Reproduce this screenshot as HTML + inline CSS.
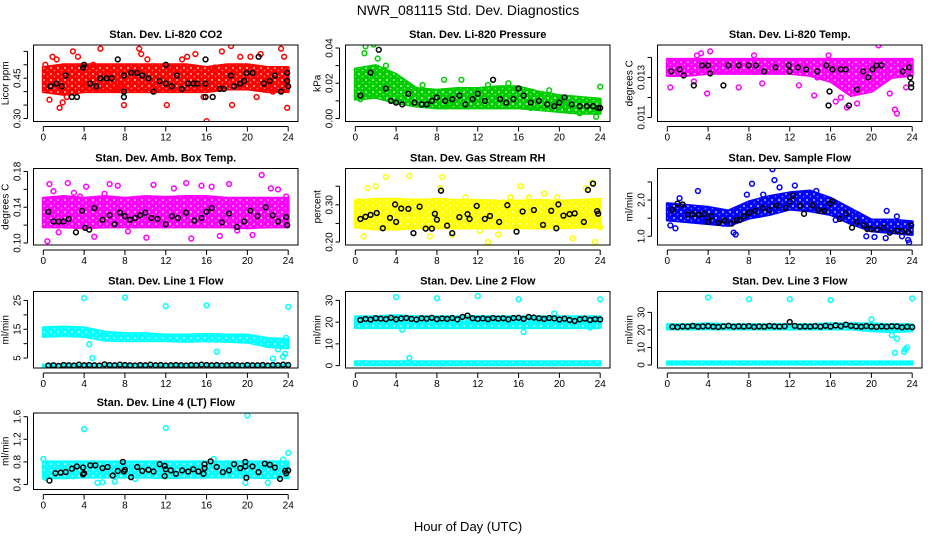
<!DOCTYPE html>
<html><head><meta charset="utf-8"><style>
body{margin:0;background:#fff;}
svg{display:block;font-family:"Liberation Sans",sans-serif;}
</style></head><body>
<svg id="chart" width="936" height="540" viewBox="0 0 936 540">
<defs>
<pattern id="speckle" width="7" height="6" patternUnits="userSpaceOnUse">
<circle cx="2" cy="2" r="1" fill="#fff" opacity="0.7"/>
<circle cx="5.5" cy="4.5" r="0.8" fill="#fff" opacity="0.5"/>
</pattern>
</defs>
<rect width="936" height="540" fill="#fff"/>
<text x="468" y="15" text-anchor="middle" font-size="14">NWR_081115  Std. Dev. Diagnostics</text>
<text x="468" y="531" text-anchor="middle" font-size="13">Hour of Day (UTC)</text>
</svg>
<script>
// ---- data ----
const bandHours = [0,2,4,6,8,10,12,14,16,18,20,22,24];
const xTicks = [0,4,8,12,16,20,24];

const co2BandLo = [0.40,0.39,0.40,0.40,0.40,0.40,0.40,0.40,0.40,0.41,0.41,0.40,0.40];
const co2BandHi = [0.49,0.50,0.50,0.50,0.50,0.50,0.50,0.50,0.49,0.50,0.50,0.49,0.49];
const co2OutH = [0.2,0.6,0.9,1.3,1.6,1.9,2.3,2.9,3.4,4.1,4.9,5.6,5.8,6.4,7.0,7.6,7.9,8.4,9.4,9.6,10.2,11.0,12.1,12.6,13.6,14.1,14.9,15.7,16.0,16.8,17.5,18.4,18.5,19.3,20.3,20.9,21.3,22.0,22.5,23.3,23.6,23.9];
const co2OutV = [0.50,0.37,0.53,0.52,0.34,0.36,0.38,0.55,0.53,0.43,0.50,0.56,0.41,0.47,0.41,0.43,0.35,0.44,0.56,0.54,0.52,0.41,0.35,0.49,0.52,0.53,0.54,0.38,0.29,0.49,0.55,0.57,0.35,0.53,0.53,0.38,0.54,0.43,0.40,0.56,0.53,0.34];
const co2BlkH = [0.7,1.3,1.8,2.2,2.8,3.3,3.9,4.0,4.6,5.2,5.6,6.2,6.7,7.3,7.9,7.9,7.9,8.6,9.2,9.7,10.3,10.8,11.4,12.0,12.0,12.6,13.1,13.6,14.2,14.7,15.1,15.9,15.9,15.9,16.6,17.3,17.7,18.4,18.7,19.3,19.7,19.9,20.5,21.1,21.6,22.2,22.7,23.3,23.9,23.9,24.0];
const co2BlkV = [0.42,0.43,0.42,0.46,0.38,0.38,0.49,0.50,0.43,0.42,0.45,0.45,0.45,0.52,0.40,0.38,0.46,0.47,0.47,0.46,0.45,0.40,0.44,0.50,0.43,0.42,0.46,0.41,0.43,0.43,0.43,0.52,0.43,0.38,0.38,0.41,0.41,0.46,0.42,0.43,0.44,0.47,0.47,0.53,0.43,0.44,0.46,0.40,0.47,0.44,0.42];

const presBandLo = [0.011,0.012,0.009,0.007,0.006,0.006,0.006,0.006,0.006,0.005,0.004,0.003,0.003];
const presBandHi = [0.028,0.030,0.025,0.017,0.016,0.017,0.017,0.018,0.018,0.015,0.013,0.012,0.011];
const presOutH = [0.5,0.9,1.0,1.8,2.2,3.0,3.7,6.6,8.7,9.1,10.4,11.0,13.0,15.0,17.2,19.0,22.0,23.6,24.0,0.2];
const presOutV = [0.011,0.037,0.041,0.042,0.034,0.030,0.022,0.019,0.022,0.008,0.022,0.007,0.019,0.020,0.006,0.016,0.003,0.001,0.018,0.022];
const presBlkH = [0.5,1.5,2.3,3.0,3.5,4.0,4.6,5.2,5.8,6.5,7.0,7.5,8.0,8.8,9.5,10.2,10.8,11.5,12.0,12.7,13.5,14.2,14.8,15.5,16.0,16.5,17.2,18.0,18.8,19.5,20.0,20.5,21.2,22.0,22.7,23.3,23.8,24.0];
const presBlkV = [0.013,0.026,0.039,0.017,0.010,0.009,0.008,0.014,0.009,0.008,0.008,0.010,0.012,0.010,0.011,0.013,0.008,0.011,0.014,0.010,0.022,0.011,0.009,0.011,0.017,0.013,0.009,0.010,0.008,0.007,0.009,0.012,0.008,0.007,0.007,0.007,0.006,0.006];

const tempBandLo = [0.0131,0.0131,0.0132,0.0132,0.0132,0.0132,0.0132,0.0131,0.0128,0.0121,0.0123,0.0130,0.0131];
const tempBandHi = [0.0139,0.0139,0.0139,0.0139,0.0139,0.0139,0.0139,0.0139,0.0139,0.0139,0.0139,0.0139,0.0139];
const tempOutH = [0.3,2.6,2.9,3.3,3.9,4.2,7.0,8.5,9.3,12.9,14.4,14.7,15.8,16.5,17.0,17.6,17.8,18.6,20.5,20.7,20.9,21.8,22.3,22.5,23.4];
const tempOutV = [0.0125,0.0128,0.0141,0.0142,0.0122,0.0143,0.0125,0.0141,0.0127,0.0126,0.0121,0.0130,0.0141,0.0118,0.0120,0.0115,0.0105,0.0117,0.0149,0.0146,0.0137,0.0122,0.0114,0.0112,0.0125];
const tempBlkH = [0.4,1.2,1.6,2.6,3.4,4.0,4.2,5.5,6.0,7.0,8.0,8.7,9.5,10.6,11.9,12.0,12.8,13.6,14.7,15.6,15.9,15.8,16.2,17.0,17.5,17.8,18.6,19.2,19.7,20.1,20.5,21.0,23.1,23.8,23.9,23.9,23.7];
const tempBlkV = [0.0133,0.0134,0.0131,0.0126,0.0136,0.0136,0.0132,0.0126,0.0136,0.0136,0.0136,0.0136,0.0133,0.0135,0.0136,0.0133,0.0135,0.0134,0.0133,0.0136,0.0123,0.0116,0.0134,0.0134,0.0134,0.0116,0.0124,0.0133,0.0130,0.0134,0.0136,0.0136,0.0133,0.0130,0.0127,0.0125,0.0135];

const ambBandLo = [0.118,0.118,0.117,0.118,0.118,0.118,0.118,0.118,0.118,0.118,0.117,0.118,0.118];
const ambBandHi = [0.150,0.152,0.150,0.152,0.150,0.152,0.151,0.152,0.152,0.150,0.150,0.150,0.150];
const ambOutH = [0.4,0.6,1.0,1.5,2.4,3.0,3.6,4.2,5.0,6.0,6.5,7.3,8.3,9.5,10.1,10.8,12.8,14.0,14.5,15.5,16.5,17.3,18.2,19.0,20.5,21.4,22.3,23.0,23.8,0.2];
const ambOutV = [0.102,0.166,0.158,0.112,0.167,0.156,0.152,0.163,0.107,0.155,0.166,0.164,0.113,0.186,0.106,0.165,0.161,0.167,0.105,0.164,0.163,0.108,0.166,0.114,0.109,0.176,0.161,0.160,0.152,0.142];
const ambBlkH = [0.5,1.0,1.5,2.0,2.5,3.2,3.8,4.1,4.5,5.0,5.8,6.5,7.0,7.5,8.0,8.5,9.0,9.5,10.0,10.6,11.2,12.0,12.6,13.2,14.0,14.8,15.5,16.0,16.5,17.5,18.2,19.0,19.7,20.3,21.0,21.8,22.5,23.0,23.8,23.9];
const ambBlkV = [0.135,0.124,0.124,0.124,0.127,0.112,0.136,0.117,0.115,0.139,0.126,0.131,0.121,0.134,0.130,0.126,0.128,0.131,0.134,0.128,0.127,0.121,0.130,0.128,0.134,0.125,0.128,0.135,0.139,0.123,0.133,0.118,0.124,0.136,0.130,0.140,0.131,0.124,0.129,0.120];

const rhBandLo = [0.240,0.235,0.235,0.238,0.238,0.238,0.238,0.238,0.238,0.238,0.238,0.240,0.240];
const rhBandHi = [0.310,0.315,0.315,0.312,0.315,0.312,0.312,0.310,0.310,0.312,0.310,0.312,0.315];
const rhOutH = [0.3,0.8,1.2,2.0,3.0,3.5,5.3,6.0,7.3,8.3,8.5,9.5,10.8,12.2,13.0,14.0,15.2,16.2,17.0,18.5,19.8,21.3,22.6,23.2,23.5,24.0];
const rhOutV = [0.31,0.215,0.345,0.350,0.375,0.24,0.378,0.31,0.215,0.345,0.375,0.22,0.32,0.23,0.20,0.22,0.32,0.35,0.32,0.33,0.32,0.21,0.345,0.36,0.20,0.24];
const rhBlkH = [0.5,1.0,1.5,2.1,2.7,3.4,3.9,4.0,4.5,5.2,5.7,6.3,6.9,7.5,7.8,8.0,8.4,9.0,9.5,10.2,11.0,11.2,11.9,12.7,13.2,14.1,14.9,15.8,16.4,17.5,18.4,19.2,19.7,19.9,20.4,21.0,21.5,22.4,22.8,23.3,23.7,23.8];
const rhBlkV = [0.262,0.268,0.273,0.278,0.237,0.265,0.301,0.254,0.29,0.289,0.224,0.295,0.236,0.236,0.276,0.260,0.338,0.244,0.224,0.267,0.275,0.262,0.297,0.262,0.270,0.254,0.299,0.228,0.282,0.286,0.246,0.284,0.237,0.301,0.271,0.275,0.277,0.254,0.340,0.357,0.283,0.276];

const sfBandLo = [1.45,1.40,1.35,1.30,1.50,1.60,1.75,1.70,1.60,1.35,1.15,1.10,1.05];
const sfBandHi = [1.90,1.85,1.80,1.70,1.95,2.10,2.20,2.25,2.05,1.75,1.45,1.45,1.40];
const sfOutH = [0.3,0.8,1.2,3.0,3.5,5.5,6.5,6.7,7.8,8.3,9.4,10.3,10.5,11.0,12.5,14.6,16.5,18.7,19.5,20.3,21.5,21.4,22.5,23.6,23.7,23.0];
const sfOutV = [1.30,1.22,2.05,2.25,1.45,1.35,1.10,1.05,2.15,2.45,2.15,2.85,2.55,2.35,2.40,2.25,1.45,1.60,1.00,0.98,1.70,0.95,1.55,0.90,0.83,1.00];
const sfBlkH = [0.5,1.0,1.5,2.0,2.5,3.1,3.6,4.0,4.3,5.0,5.6,6.3,6.8,7.1,7.5,8.0,8.6,9.4,10.0,10.7,11.6,12.0,12.3,13.0,13.4,14.2,14.8,15.4,15.9,16.2,16.9,17.5,18.1,18.6,19.3,19.6,20.0,20.6,21.2,21.8,22.5,23.0,23.6,23.9];
const sfBlkV = [1.73,1.90,1.88,1.60,1.61,1.59,1.62,1.40,1.55,1.37,1.43,1.35,1.45,1.45,1.56,1.65,1.70,1.78,1.72,1.85,1.78,1.96,2.12,1.84,1.62,1.86,1.72,1.70,1.90,1.97,1.48,1.63,1.24,1.40,1.30,1.20,1.20,1.19,1.24,1.10,1.15,1.14,1.12,1.30];

const l1BandLo = [12.5,12.8,12.5,11.2,11.0,11.0,11.0,10.8,11.0,10.8,10.5,9.0,8.5];
const l1BandHi = [15.5,15.8,15.5,14.0,13.5,13.5,13.0,13.0,13.2,13.0,13.0,11.8,11.5];
const l1Band2Lo = [1.6,1.6,1.6,1.6,1.6,1.6,1.6,1.6,1.6,1.6,1.6,1.6,1.6];
const l1Band2Hi = [2.6,2.6,2.6,2.6,2.6,2.6,2.6,2.6,2.6,2.6,2.6,2.6,2.6];
const l1OutH = [4.0,8.0,12.0,16.0,24.0,4.5,4.8,17.0,22.5,23.0,23.5,23.7,23.8];
const l1OutV = [25.8,26.0,23.0,23.3,22.8,9.8,5.0,7.2,4.8,8.0,5.5,6.5,12.0];
const l1BlkV = [2.4,2.5,2.3,2.6,2.5,2.4,2.7,2.5,2.6,2.5,2.4,2.8,2.6,2.5,2.7,2.6,2.5,2.4,2.6,2.5,2.7,2.5,2.6,2.4,2.5,2.6,2.5,2.4,2.6,2.5,2.7,2.6,2.5,2.6,2.4,2.5,2.6,2.5,2.4,2.6,2.5,2.5,2.6,2.4,2.6,2.5,2.7,2.6];

const l2BandLo = [20.0,20.0,20.0,20.0,20.0,20.0,20.0,20.0,20.0,20.0,20.0,20.0,20.0];
const l2BandHi = [22.5,22.5,23.0,22.5,22.5,22.5,22.5,22.5,22.5,22.5,22.5,22.5,22.5];
const l2Band2Lo = [17.5,17.5,17.5,17.5,17.5,17.5,17.5,17.5,17.5,17.5,17.5,17.5,17.5];
const l2Band2Hi = [19.6,19.6,19.6,19.6,19.6,19.6,19.6,19.6,19.6,19.6,19.6,19.6,19.6];
const l2Band3Lo = [0.4,0.4,0.4,0.4,0.4,0.4,0.4,0.4,0.4,0.4,0.4,0.4,0.4];
const l2Band3Hi = [1.8,1.8,1.8,1.8,1.8,1.8,1.8,1.8,1.8,1.8,1.8,1.8,1.8];
const l2OutH = [4.0,8.0,12.0,16.0,24.0,5.3,4.6,16.5,19.5,23.0];
const l2OutV = [31.5,31.0,32.0,30.5,30.5,3.5,16.5,15.5,24.0,17.5];
const l2BlkV = [21.0,21.5,21.2,21.8,21.6,21.4,22.0,21.3,21.7,21.9,21.5,21.2,21.8,21.6,22.0,21.4,21.7,21.5,21.9,21.3,22.4,23.0,21.8,21.5,21.7,21.4,21.9,21.6,21.8,21.3,21.9,22.0,21.5,22.4,22.1,21.8,21.5,21.9,21.7,21.2,21.6,21.0,20.5,21.3,21.6,21.0,21.4,21.2];

const l3BandLo = [20.5,20.5,20.5,20.5,20.5,20.5,20.5,20.5,20.5,20.5,19.5,19.0,19.5];
const l3BandHi = [23.0,23.0,23.5,23.0,23.0,23.0,23.0,23.0,23.5,23.5,23.5,23.0,23.0];
const l3Band2Lo = [0.5,0.5,0.5,0.5,0.5,0.5,0.5,0.5,0.5,0.5,0.5,0.5,0.5];
const l3Band2Hi = [1.8,1.8,1.8,1.8,1.8,1.8,1.8,1.8,1.8,1.8,1.8,1.8,1.8];
const l3OutH = [4,8,12,16,20,24,21.5,22,22.5,22.3,23.2,23.5,23.3,22.7];
const l3OutV = [38.5,37.5,37.5,37.0,26.0,38.0,21.0,17.0,15.0,7.0,7.5,10.0,9.0,20.0];
const l3BlkV = [21.8,21.6,22.0,21.9,22.3,21.8,22.0,22.2,21.9,21.7,22.0,22.4,21.8,22.1,21.9,22.2,21.7,22.0,21.8,22.3,22.0,21.9,22.1,24.5,22.3,21.8,22.0,21.9,22.2,21.8,22.4,21.9,22.6,22.1,23.0,22.3,22.0,21.8,22.2,21.9,21.7,22.0,21.8,22.1,22.0,21.5,21.8,21.6];

const l4BandLo = [0.52,0.52,0.53,0.53,0.53,0.53,0.52,0.53,0.53,0.53,0.53,0.52,0.52];
const l4BandHi = [0.80,0.80,0.80,0.80,0.80,0.80,0.80,0.80,0.80,0.80,0.80,0.80,0.80];
const l4OutH = [0.0,4.0,12.0,20.0,24.0,5.3,5.8,7.0,19.8,22.0,23.5,16.7,0.2,9.0];
const l4OutV = [0.85,1.38,1.40,1.62,0.96,0.43,0.44,0.45,0.43,0.43,0.84,0.85,0.52,0.50];
const l4BlkH = [0.6,1.2,1.7,2.2,2.8,3.3,3.9,3.9,4.0,4.6,5.1,5.8,6.3,6.8,7.3,7.8,7.9,8.0,8.6,9.2,9.7,10.3,10.8,11.4,11.9,11.9,12.0,12.5,13.0,13.6,14.2,14.7,15.2,15.7,15.8,15.8,16.4,17.0,17.6,18.2,18.7,19.3,19.8,19.8,19.9,20.5,21.1,21.7,22.2,22.7,23.2,23.7,23.8,24.0];
const l4BlkV = [0.47,0.60,0.61,0.62,0.68,0.72,0.70,0.58,0.60,0.74,0.74,0.69,0.71,0.56,0.64,0.80,0.63,0.66,0.53,0.71,0.64,0.66,0.63,0.76,0.73,0.55,0.67,0.65,0.59,0.65,0.63,0.67,0.63,0.59,0.76,0.69,0.81,0.71,0.62,0.65,0.76,0.69,0.80,0.72,0.52,0.72,0.62,0.77,0.75,0.70,0.50,0.64,0.60,0.65];

const gridHours = l1BlkV.map((v,i)=>0.5*(i+1));

// ---- rendering ----
const NS = "http://www.w3.org/2000/svg";
const svg = document.getElementById('chart');
const colLeft = [33.5, 345.5, 657.5];
const rowTop = [45, 168.5, 291.5, 413];
const W = 264.5, H = 76.5;

const panels = [
 {name:'co2', title:'Stan. Dev. Li-820 CO2', ylab:'Licor ppm', col:'#ff0000', r:0,c:0, y0:0.2888,y1:0.5737, ticks:[0.30,0.35,0.40,0.45,0.50,0.55], labels:['0.30','','','0.45','',''], bands:[[co2BandLo,co2BandHi]], oh:co2OutH, ov:co2OutV, bh:co2BlkH, bv:co2BlkV},
 {name:'pressure', title:'Stan. Dev. Li-820 Pressure', ylab:'kPa', col:'#00cd00', r:0,c:1, y0:-0.0017,y1:0.0417, ticks:[0,0.01,0.02,0.03,0.04], labels:['0.00','','0.02','','0.04'], bands:[[presBandLo,presBandHi]], oh:presOutH, ov:presOutV, bh:presBlkH, bv:presBlkV},
 {name:'temp', title:'Stan. Dev. Li-820 Temp.', ylab:'degrees C', col:'#ff00ff', r:0,c:2, y0:0.0108,y1:0.01462, ticks:[0.011,0.012,0.013,0.014], labels:['0.011','','0.013',''], bands:[[tempBandLo,tempBandHi]], oh:tempOutH, ov:tempOutV, bh:tempBlkH, bv:tempBlkV},
 {name:'amb-box-temp', title:'Stan. Dev. Amb. Box Temp.', ylab:'degrees C', col:'#ff00ff', r:1,c:0, y0:0.0978,y1:0.1833, ticks:[0.10,0.12,0.14,0.16,0.18], labels:['0.10','','0.14','','0.18'], bands:[[ambBandLo,ambBandHi]], oh:ambOutH, ov:ambOutV, bh:ambBlkH, bv:ambBlkV},
 {name:'gas-rh', title:'Stan. Dev. Gas Stream RH', ylab:'percent', col:'#ffff00', r:1,c:1, y0:0.192,y1:0.3976, ticks:[0.20,0.25,0.30,0.35], labels:['0.20','','0.30',''], bands:[[rhBandLo,rhBandHi]], oh:rhOutH, ov:rhOutV, bh:rhBlkH, bv:rhBlkV},
 {name:'sample-flow', title:'Stan. Dev. Sample Flow', ylab:'ml/min', col:'#0000ff', r:1,c:2, y0:0.76,y1:2.87, ticks:[1.0,1.5,2.0,2.5], labels:['1.0','','2.0',''], bands:[[sfBandLo,sfBandHi]], oh:sfOutH, ov:sfOutV, bh:sfBlkH, bv:sfBlkV},
 {name:'line1-flow', title:'Stan. Dev. Line 1 Flow', ylab:'ml/min', col:'#00ffff', r:2,c:0, y0:1.55,y1:28.1, ticks:[5,10,15,20,25], labels:['5','','15','','25'], bands:[[l1BandLo,l1BandHi],[l1Band2Lo,l1Band2Hi]], oh:l1OutH, ov:l1OutV, bh:gridHours, bv:l1BlkV},
 {name:'line2-flow', title:'Stan. Dev. Line 2 Flow', ylab:'ml/min', col:'#00ffff', r:2,c:1, y0:-1.1,y1:34.1, ticks:[0,10,20,30], labels:['0','10','20','30'], bands:[[l2BandLo,l2BandHi],[l2Band2Lo,l2Band2Hi],[l2Band3Lo,l2Band3Hi]], oh:l2OutH, ov:l2OutV, bh:gridHours, bv:l2BlkV},
 {name:'line3-flow', title:'Stan. Dev. Line 3 Flow', ylab:'ml/min', col:'#00ffff', r:2,c:2, y0:-1.7,y1:41.9, ticks:[0,10,20,30], labels:['0','10','20','30'], bands:[[l3BandLo,l3BandHi],[l3Band2Lo,l3Band2Hi]], oh:l3OutH, ov:l3OutV, bh:gridHours, bv:l3BlkV},
 {name:'line4-flow', title:'Stan. Dev. Line 4 (LT) Flow', ylab:'ml/min', col:'#00ffff', r:3,c:0, y0:0.312,y1:1.665, ticks:[0.4,0.8,1.2,1.6], labels:['0.4','0.8','1.2','1.6'], bands:[[l4BandLo,l4BandHi]], oh:l4OutH, ov:l4OutV, bh:l4BlkH, bv:l4BlkV}
];

function mk(tag, attrs, parent){
  const e = document.createElementNS(NS, tag);
  for (const k in attrs) e.setAttribute(k, attrs[k]);
  (parent||svg).appendChild(e);
  return e;
}

panels.forEach(p=>{
  const L = colLeft[p.c], T = rowTop[p.r], B = T + H, R = L + W;
  const xs = h => L + (h + 0.96) / 25.92 * W;
  const ys = v => B - (v - p.y0) / (p.y1 - p.y0) * H;
  const g = mk('g', {});
  
  

  const t = mk('text', {x:(L+R)/2, y:T-7, 'text-anchor':'middle', 'font-size':'11', 'font-weight':'bold'}, g);
  t.textContent = p.title;
  
  

  const clip = mk('clipPath', {id:'clip-'+p.name}, g);
  mk('rect', {x:L, y:T, width:W, height:H}, clip);
  const plot = mk('g', {'clip-path':'url(#clip-'+p.name+')'}, g);
  
  

  p.bands.forEach(([lo,hi],bi)=>{
    let d = '';
    bandHours.forEach((h,i)=>{ d += (i?'L':'M') + xs(h) + ' ' + ys(hi[i]) + ' '; });
    for (let i = bandHours.length-1; i>=0; i--) d += 'L' + xs(bandHours[i]) + ' ' + ys(lo[i]) + ' ';
    const band = mk('path', {d:d+'Z', fill:p.col, stroke:p.col, 'stroke-width':'3', 'stroke-linejoin':'round'}, plot);
    
    
    const sp = mk('path', {d:d+'Z', fill:'url(#speckle)'}, plot);
    
    
  });
  p.oh.forEach((h,i)=>{
    const c = mk('circle', {cx:xs(h), cy:ys(p.ov[i]), r:2.4, fill:'none', stroke:p.col, 'stroke-width':1.5}, plot);
    
    
  });
  p.bh.forEach((h,i)=>{
    const c = mk('circle', {cx:xs(h), cy:ys(p.bv[i]), r:2.4, fill:'none', stroke:'#000', 'stroke-width':1.5}, plot);
    
    
  });

  const box = mk('rect', {x:L, y:T, width:W, height:H, fill:'none', stroke:'#000', 'stroke-width':1}, g);
  
  

  const xa = mk('g', {}, g);
  
  
  mk('line', {x1:xs(0), x2:xs(24), y1:B+5, y2:B+5, stroke:'#000'}, xa);
  xTicks.forEach(v=>{
    mk('line', {x1:xs(v), x2:xs(v), y1:B+5, y2:B+10, stroke:'#000'}, xa);
    const tl = mk('text', {x:xs(v), y:B+19, 'text-anchor':'middle', 'font-size':'10'}, xa);
    tl.textContent = v;
  });
  const ya = mk('g', {}, g);
  
  
  mk('line', {x1:L-6, x2:L-6, y1:ys(p.ticks[0]), y2:ys(p.ticks[p.ticks.length-1]), stroke:'#000'}, ya);
  p.ticks.forEach((v,i)=>{
    mk('line', {x1:L-6, x2:L-10, y1:ys(v), y2:ys(v), stroke:'#000'}, ya);
    if (p.labels[i]) {
      const tl = mk('text', {x:0, y:0, 'text-anchor':'middle', 'font-size':'10', transform:'translate('+(L-13)+','+ys(v)+') rotate(-90)'}, ya);
      tl.textContent = p.labels[i];
    }
  });
  const yl = mk('text', {x:0, y:0, 'text-anchor':'middle', 'font-size':'10', transform:'translate('+(L-25)+','+(T+H/2)+') rotate(-90)'}, g);
  yl.textContent = p.ylab;
  
  
});
</script>
</body></html>
